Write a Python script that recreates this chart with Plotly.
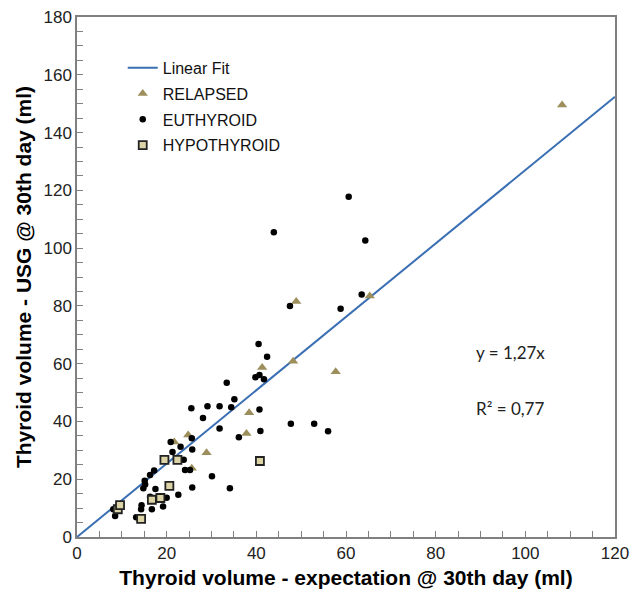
import plotly.graph_objects as go

# ---- data ----
relapsed_x = [108.2, 48.9, 65.3, 48.2, 57.7, 41.3, 38.4, 37.8, 24.8, 21.7, 28.9, 25.6]
relapsed_y = [149.5, 81.5, 83.4, 60.8, 57.2, 58.7, 43.0, 35.8, 35.3, 32.9, 29.2, 23.8]

euthyroid_x = [60.6, 43.9, 64.3, 47.5, 58.8, 63.5, 40.5, 42.4, 39.8, 40.7, 41.7, 33.4,
               35.1, 34.4, 40.7, 25.5, 29.1, 31.8, 28.1, 31.8, 40.9, 47.7, 52.9, 56.0,
               36.1, 25.6, 20.9, 23.1, 21.3, 25.7, 23.8, 24.1, 25.2, 17.2, 16.3, 15.1,
               15.2, 14.8, 17.5, 25.7, 30.1, 34.1, 20.0, 16.3, 22.6, 14.4, 19.2, 16.7,
               14.3, 13.2, 8.1, 8.5]
euthyroid_y = [117.8, 105.5, 102.6, 80.0, 79.0, 83.9, 66.8, 62.4, 55.3, 56.1, 54.6, 53.4,
               47.7, 44.9, 44.1, 44.6, 45.3, 45.3, 41.2, 37.6, 36.7, 39.2, 39.2, 36.6,
               34.5, 34.2, 32.9, 31.2, 29.4, 30.3, 26.7, 23.2, 23.2, 23.0, 21.5, 19.5,
               18.2, 16.9, 16.6, 17.1, 21.0, 16.9, 13.6, 13.9, 14.6, 11.0, 10.6, 9.6,
               9.6, 6.8, 9.6, 7.3]

hypo_x = [9.1, 9.6, 14.3, 16.7, 18.6, 20.6, 19.5, 22.4, 40.8]
hypo_y = [9.6, 11.0, 6.3, 12.9, 13.5, 17.7, 26.7, 26.7, 26.3]

fit_slope = 1.27
fit_x = [0, 120]
fit_y = [fit_slope * v for v in fit_x]

x_ticks = [0, 20, 40, 60, 80, 100, 120]
y_ticks = [0, 20, 40, 60, 80, 100, 120, 140, 160, 180]

FONT = "Liberation Sans, Arial, sans-serif"

fig = go.Figure()
fig.add_trace(go.Scatter(x=fit_x, y=fit_y, mode="lines", name="Linear Fit", legendgroup="a",
                         line=dict(color="#3b6fb3", width=2)))
fig.add_trace(go.Scatter(x=relapsed_x, y=relapsed_y, mode="markers", name="RELAPSED",
                         legendgroup="b",
                         marker=dict(symbol="triangle-up", size=9, color="#9d8f5c",
                                     line=dict(width=0))))
fig.add_trace(go.Scatter(x=euthyroid_x, y=euthyroid_y, mode="markers", name="EUTHYROID",
                         legendgroup="c",
                         marker=dict(symbol="circle", size=6.5, color="black",
                                     line=dict(width=0))))
fig.add_trace(go.Scatter(x=hypo_x, y=hypo_y, mode="markers", name="HYPOTHYROID",
                         legendgroup="d",
                         marker=dict(symbol="square", size=8, color="#dcd3a6",
                                     line=dict(width=1.8, color="#222222"))))

axis_common = dict(
    showgrid=False, zeroline=False, showline=True, linecolor="#808080", linewidth=1.5,
    mirror=True, ticks="inside", ticklen=6, tickcolor="#808080", tickwidth=1,
    tickfont=dict(family=FONT, size=17, color="#222222"), automargin=False,
    minor=dict(dtick=5, ticks="inside", ticklen=6, tickcolor="#808080", tickwidth=1),
)

fig.update_xaxes(range=[0, 120], tickvals=x_ticks, ticktext=[str(v) for v in x_ticks],
                 title=dict(text="<b>Thyroid volume - expectation @ 30th day (ml)</b>",
                            font=dict(family=FONT, size=21, color="black"), standoff=8),
                 **axis_common)
fig.update_yaxes(range=[0, 180], tickvals=y_ticks, ticktext=[str(v) for v in y_ticks],
                 title=dict(text="<b>Thyroid volume - USG @ 30th day (ml)</b>",
                            font=dict(family=FONT, size=21, color="black"), standoff=6),
                 **axis_common)

fig.add_annotation(x=88.5, y=64, xref="x", yref="y", text="y = 1,27x", showarrow=False,
                   xanchor="left", yanchor="middle",
                   font=dict(family="Lato, sans-serif", size=17, color="#222222"))
fig.add_annotation(x=88.5, y=44.5, xref="x", yref="y", text="R² = 0,77", showarrow=False,
                   xanchor="left", yanchor="middle",
                   font=dict(family="Lato, sans-serif", size=17, color="#222222"))

fig.update_layout(
    width=632, height=598,
    margin=dict(l=77, r=17, t=17, b=61),
    paper_bgcolor="white", plot_bgcolor="white",
    showlegend=True,
    legend=dict(x=0.085, y=0.935, xanchor="left", yanchor="top",
                bgcolor="rgba(0,0,0,0)", font=dict(family=FONT, size=16, color="#111111"),
                tracegroupgap=2, itemwidth=30),
)

fig.write_html("out.html")
